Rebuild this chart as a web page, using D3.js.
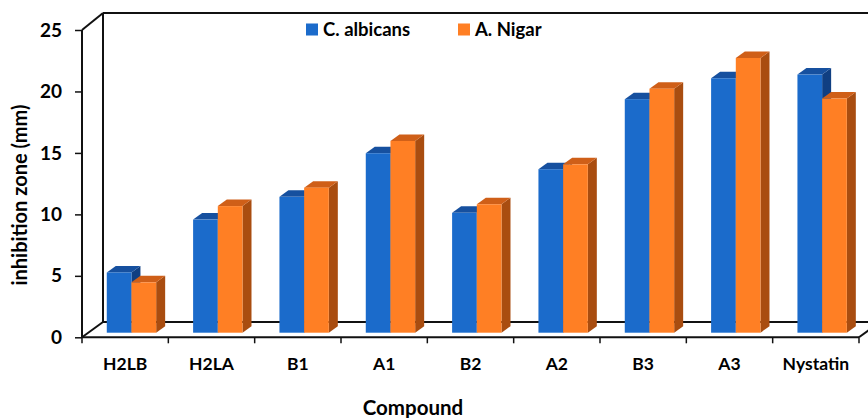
<!DOCTYPE html>
<html>
<head>
<meta charset="utf-8">
<script src="https://cdn.jsdelivr.net/npm/d3@7"></script>
<style>
  html, body { margin: 0; padding: 0; background: #fff; }
  svg { display: block; }
  text { font-family: Lato, "Open Sans", sans-serif; font-weight: bold; fill: #000; }
</style>
</head>
<body>
<svg id="chart" width="868" height="418"></svg>
<script>
// Inhibition zone (mm) per compound against two fungal strains
const compounds = ["H2LB", "H2LA", "B1", "A1", "B2", "A2", "B3", "A3", "Nystatin"];
const seriesNames = ["C. albicans", "A. Nigar"];
const albicans = [4.9, 9.2, 11.05, 14.6, 9.75, 13.3, 19.0, 20.7, 21.0];
const nigar = [4.1, 10.3, 11.8, 15.6, 10.45, 13.7, 19.85, 22.35, 19.05];
const yTicks = [0, 5, 10, 15, 20, 25];

const faces = {
  "C. albicans": { front: "#1b6bcb", top: "#16509f", side: "#103f82" },
  "A. Nigar":    { front: "#ff7f24", top: "#cf5f18", side: "#a94d10" }
};

const svg = d3.select("#chart");

// front plane of the 3-D box
const left = 82, right = 859;
const y = d3.scaleLinear().domain([0, 25]).range([337.3, 30]);
const x = d3.scaleBand().domain(compounds).range([left, right]).padding(0);

// depth of the walls (slight perspective: top recedes a little more)
const wallDx = 21, wallDyBottom = -15.3, wallDyTop = -17;
// bars sit part way into the box
const barShiftX = 6.3, barShiftY = -4.6;
const barDepthX = 9, barDepthY = -6.5;
const barW = x.bandwidth() * 0.286;

const axisColor = "#111";
const g = svg.append("g");

// back wall and floor outlines
const y0 = y(0), yTop = y(25);
const backLeftTop = [left + wallDx, yTop + wallDyTop];
const backLeftBottom = [left + wallDx, y0 + wallDyBottom];
const line = (pts) => g.append("path")
  .attr("d", d3.line()(pts))
  .attr("fill", "none").attr("stroke", axisColor).attr("stroke-width", 2);

line([backLeftTop, [900, yTop + wallDyTop]]);
line([backLeftTop, backLeftBottom]);
line([backLeftBottom, [900, y0 + wallDyBottom]]);
line([[left, yTop], backLeftTop]);
line([[left, y0], backLeftBottom]);
line([[right, y0], [right + wallDx, y0 + wallDyBottom]]);

// bars
const data = compounds.map((c, i) => ({ c, vals: [albicans[i], nigar[i]] }));
const barsG = g.append("g");
data.forEach(d => {
  const groupLeft = x(d.c) + (x.bandwidth() - 2 * barW) / 2 + barShiftX;
  d.vals.forEach((v, si) => {
    const col = faces[seriesNames[si]];
    const x0 = groupLeft + si * barW, x1 = x0 + barW;
    const yb = y(0) + barShiftY, yt = y(v) + barShiftY;
    const bar = barsG.append("g");
    bar.append("path").attr("fill", col.side)
      .attr("d", d3.line()([[x1, yt], [x1 + barDepthX, yt + barDepthY], [x1 + barDepthX, yb + barDepthY], [x1, yb]]) + "Z");
    bar.append("path").attr("fill", col.top)
      .attr("d", d3.line()([[x0, yt], [x0 + barDepthX, yt + barDepthY], [x1 + barDepthX, yt + barDepthY], [x1, yt]]) + "Z");
    bar.append("rect").attr("fill", col.front)
      .attr("x", x0).attr("y", yt).attr("width", barW).attr("height", yb - yt);
  });
});

// front y axis
const yAxis = d3.axisLeft(y).tickValues(yTicks).tickSize(7).tickPadding(13).tickFormat(d3.format("d"));
const ya = g.append("g").attr("transform", `translate(${left},0)`).call(yAxis);
ya.select(".domain").attr("stroke", axisColor).attr("stroke-width", 2).attr("d", `M0,${yTop}V${y0}`);
ya.selectAll(".tick line").attr("stroke", axisColor).attr("stroke-width", 1.5);
ya.selectAll(".tick text").style("font-size", "19px").style("font-family", "Lato, sans-serif").style("font-weight", "bold").attr("fill", "#000");

// front x axis with ticks on category boundaries
const xa = g.append("g").attr("transform", `translate(0,${y0})`);
xa.append("path").attr("d", `M${left},0H${right}`).attr("stroke", axisColor).attr("stroke-width", 2);
const bounds = compounds.map(c => x(c)).concat([right]);
xa.selectAll("line.tk").data(bounds).join("line").attr("class", "tk")
  .attr("x1", d => d).attr("x2", d => d).attr("y1", 0).attr("y2", 6)
  .attr("stroke", axisColor).attr("stroke-width", 1.5);
xa.selectAll("text").data(compounds).join("text")
  .attr("x", d => x(d) + x.bandwidth() / 2).attr("y", 32.5)
  .attr("text-anchor", "middle").style("font-size", "17.5px").text(d => d);

// axis titles
svg.append("text").attr("x", 413).attr("y", 415).attr("text-anchor", "middle")
  .style("font-size", "20.5px").text("Compound");
svg.append("text").attr("transform", "translate(27,195) rotate(-90)").attr("text-anchor", "middle")
  .style("font-size", "20px").text("inhibition zone (mm)");

// legend
const legend = svg.append("g");
const legendX = [306, 458];
seriesNames.forEach((s, i) => {
  legend.append("rect").attr("x", legendX[i]).attr("y", 23.5).attr("width", 12).attr("height", 12)
    .attr("fill", faces[s].front);
  legend.append("text").attr("x", legendX[i] + 17).attr("y", 36).style("font-size", "18.5px").text(s);
});
</script>
</body>
</html>
